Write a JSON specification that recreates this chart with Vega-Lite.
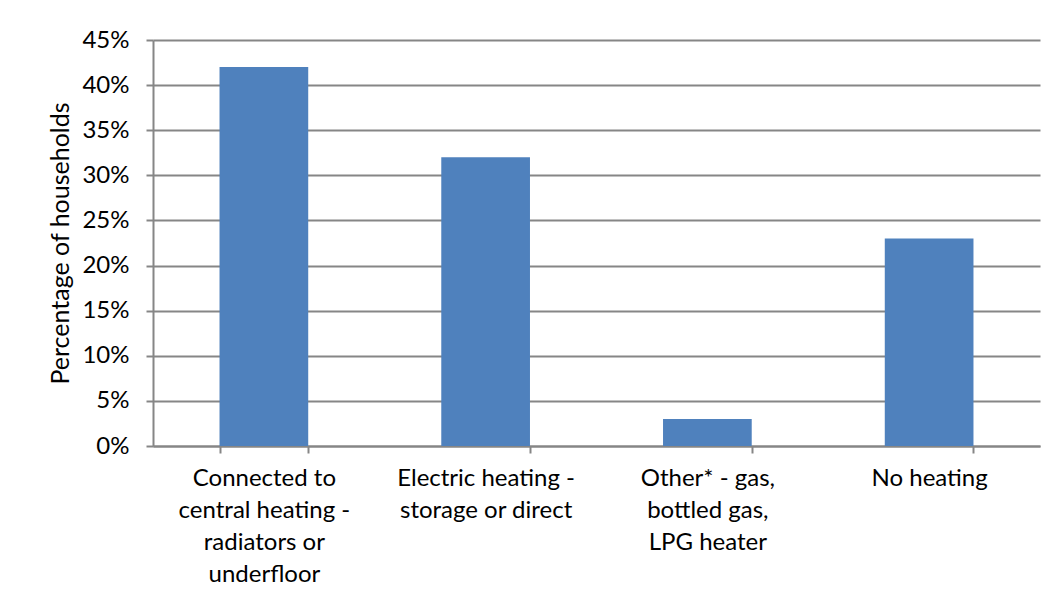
{
  "$schema": "https://vega.github.io/schema/vega-lite/v6.json",
  "width": 887,
  "height": 406,
  "autosize": {"type": "none"},
  "padding": {"left": 153, "top": 40, "right": 15, "bottom": 157},
  "background": "white",
  "config": {
    "view": {"stroke": null},
    "font": "Lato",
    "axis": {
      "labelFont": "Lato",
      "titleFont": "Lato",
      "labelColor": "black",
      "titleColor": "black",
      "domainColor": "#868686",
      "tickColor": "#868686",
      "gridColor": "#868686",
      "domainWidth": 2,
      "tickWidth": 2,
      "gridWidth": 2
    }
  },
  "data": {
    "values": [
      {"category": "Connected to central heating - radiators or underfloor", "pct": 0.42},
      {"category": "Electric heating - storage or direct", "pct": 0.32},
      {"category": "Other* - gas, bottled gas, LPG heater", "pct": 0.03},
      {"category": "No heating", "pct": 0.23}
    ]
  },
  "mark": {"type": "bar", "color": "#4F81BD"},
  "encoding": {
    "x": {
      "field": "category",
      "type": "nominal",
      "sort": null,
      "scale": {"paddingInner": 0.6, "paddingOuter": 0.3},
      "axis": {
        "title": null,
        "labelAngle": 0,
        "labelFontSize": 24,
        "labelLineHeight": 32,
        "labelPadding": 13,
        "tickSize": 7,
        "tickBand": "extent",
        "labelLimit": 300,
        "labelBaseline": "top",
        "labelExpr": "datum.value == 'Connected to central heating - radiators or underfloor' ? ['Connected to','central heating -','radiators or','underfloor'] : datum.value == 'Electric heating - storage or direct' ? ['Electric heating -','storage or direct'] : datum.value == 'Other* - gas, bottled gas, LPG heater' ? ['Other* - gas,','bottled gas,','LPG heater'] : datum.value"
      }
    },
    "y": {
      "field": "pct",
      "type": "quantitative",
      "scale": {"domain": [0, 0.45]},
      "axis": {
        "title": "Percentage of households",
        "titleFontSize": 25,
        "titleFontWeight": "normal",
        "titlePadding": 8,
        "values": [0, 0.05, 0.1, 0.15, 0.2, 0.25, 0.3, 0.35, 0.4, 0.45],
        "format": ".0%",
        "labelFontSize": 24,
        "labelPadding": 17,
        "tickSize": 7,
        "grid": true
      }
    }
  }
}
